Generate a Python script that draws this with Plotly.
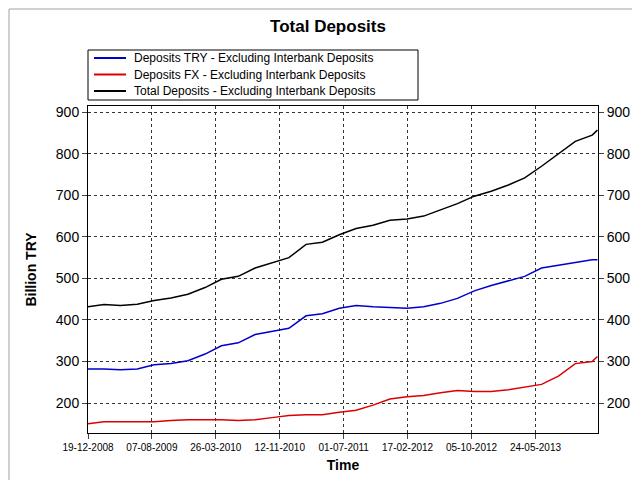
import plotly.graph_objects as go

dates = ["2008-12-19","2009-02-15","2009-04-15","2009-06-15","2009-08-15","2009-10-15","2009-12-15",
         "2010-02-15","2010-04-15","2010-06-15","2010-08-15","2010-10-15","2010-12-15",
         "2011-02-15","2011-04-15","2011-06-15","2011-08-15","2011-10-15","2011-12-15",
         "2012-02-15","2012-04-15","2012-06-15","2012-08-15","2012-10-15","2012-12-15",
         "2013-02-15","2013-04-15","2013-06-15","2013-08-15","2013-10-15","2013-12-15","2014-01-03"]
try_dep = [282,282,280,282,292,295,302,318,338,345,365,372,380,410,415,428,435,432,430,
           428,432,440,452,470,483,495,505,525,532,538,545,545]
fx_dep = [150,155,155,155,155,158,160,160,160,158,160,165,170,172,172,178,183,195,210,
          215,218,225,230,228,228,232,238,245,265,295,300,312]
total_dep = [432,437,435,438,447,453,462,478,498,505,525,538,550,582,587,605,620,628,640,
             643,650,665,680,698,710,725,742,770,800,830,845,857]
series_names = ["Deposits TRY - Excluding Interbank Deposits",
                "Deposits FX - Excluding Interbank Deposits",
                "Total Deposits - Excluding Interbank Deposits"]
series_colors = ["#0000cc", "#dd0000", "black"]
tick_dates = ["2008-12-19","2009-08-07","2010-03-26","2010-11-12","2011-07-01","2012-02-17","2012-10-05","2013-05-24"]
tick_text = ["19-12-2008","07-08-2009","26-03-2010","12-11-2010","01-07-2011","17-02-2012","05-10-2012","24-05-2013"]
yticks = [200,300,400,500,600,700,800,900]

fig = go.Figure()
for vals, nm, col in zip([try_dep, fx_dep, total_dep], series_names, series_colors):
    fig.add_trace(go.Scatter(x=dates, y=vals, mode="lines", line=dict(color=col, width=1.5),
                             name=nm, showlegend=False))
fig.add_trace(go.Scatter(x=dates, y=total_dep, yaxis="y2", mode="lines", line=dict(width=0),
                         showlegend=False, hoverinfo="skip", opacity=0))

H = 327.0; W = 510.0
def py(p): return (425 - p) / H
def px(p): return (p - 80) / W

shapes = [dict(type="rect", xref="paper", yref="paper", x0=px(80), x1=px(410), y0=py(92), y1=py(42),
               line=dict(color="black", width=1), fillcolor="white"),
          dict(type="rect", xref="paper", yref="paper", x0=px(1), x1=px(638), y0=py(478), y1=py(1),
               line=dict(color="#a0a0a0", width=1))]
annotations = []
for i, (nm, col) in enumerate(zip(series_names, series_colors)):
    yy = py(50 + 16.5 * i)
    shapes.append(dict(type="line", xref="paper", yref="paper", x0=px(86), x1=px(118), y0=yy, y1=yy,
                       line=dict(color=col, width=2)))
    annotations.append(dict(xref="paper", yref="paper", x=px(124), y=yy, text=nm, showarrow=False,
                            xanchor="left", yanchor="middle", font=dict(size=12, color="black")))

axcommon = dict(showline=True, linecolor="black", mirror=True, ticks="outside",
                showgrid=True, gridcolor="#333333", griddash="dot", gridwidth=0.8, zeroline=False,
                automargin=False)
fig.update_layout(
    width=640, height=480, paper_bgcolor="white", plot_bgcolor="white",
    margin=dict(l=80, r=50, t=98, b=55),
    title=dict(text="<b>Total Deposits</b>", x=0.5, xanchor="center", y=0.975, yanchor="top",
               font=dict(family="Liberation Sans, Arial", size=17, color="black")),
    font=dict(family="Liberation Sans, Arial", color="black"),
    xaxis=dict(range=["2008-12-19","2014-01-05"], tickvals=tick_dates, ticktext=tick_text,
               tickfont=dict(size=10), title=dict(text="<b>Time</b>", font=dict(size=14), standoff=8),
               **axcommon),
    yaxis=dict(range=[128,915], tickvals=yticks, tickfont=dict(size=14),
               title=dict(text="<b>Billion TRY</b>", font=dict(size=14)), **axcommon),
    yaxis2=dict(range=[128,915], tickvals=yticks, tickfont=dict(size=14), overlaying="y",
                side="right", showgrid=False, ticks="outside", zeroline=False, automargin=False),
    showlegend=False,
    shapes=shapes, annotations=annotations,
)
fig.write_html("out.html")
